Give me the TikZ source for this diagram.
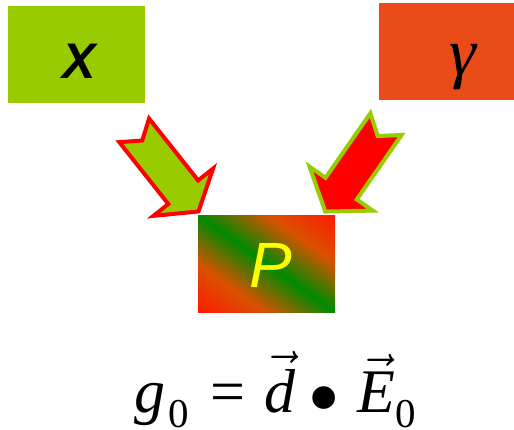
\RequirePackage{fix-cm}
\documentclass[tikz,border=0pt]{standalone}
\usepackage{fontspec}
\setmainfont{Liberation Serif}
\newfontfamily\sansfont{Liberation Sans}
\definecolor{xgreen}{HTML}{99CC00}
\definecolor{gorange}{HTML}{E94B19}
\definecolor{pyellow}{HTML}{FFFF00}
\definecolor{sred}{HTML}{FF1A00}
\definecolor{sorange}{HTML}{D85200}
\definecolor{sgreen}{HTML}{008A00}
\pgfdeclareverticalshading{rgrshade}{100bp}{color(0bp)=(sred); color(25bp)=(sred); color(37.5bp)=(sorange); color(50bp)=(sgreen); color(62.5bp)=(sorange); color(75bp)=(sred); color(100bp)=(sred)}
\tikzset{
  colbox/.style={rectangle, draw=none, inner sep=0pt, minimum width=137pt, minimum height=97pt},
  blockarrow/.style={line width=4pt, line join=miter},
  greenarrow/.style={blockarrow, fill=xgreen, draw=red},
  redarrow/.style={blockarrow, fill=red, draw=xgreen},
  lbl/.style={inner sep=0pt}
}
\begin{document}
\begin{tikzpicture}[x=1pt, y=-1pt]
\useasboundingbox[fill=white] (0,0) rectangle (514,429);
% boxes
\node[colbox, fill=xgreen] (xbox) at (76.5,54.5) {};
\node[colbox, fill=gorange, minimum width=135pt] (gbox) at (446.5,51.5) {};
\begin{scope}
  \clip (198,215) rectangle (335,312);
  \begin{scope}[transform canvas={shift={(266.5,263.5)}, rotate=-35.3}]
    \shade[shading=rgrshade] (-86,-79.5) rectangle (86,79.5);
  \end{scope}
\end{scope}
\node[colbox] (pbox) at (266.5,263.5) {};
% labels
\node[lbl] (xlabel) at (79,61) {\fontsize{50}{50}\selectfont\sansfont\bfseries\itshape X};
\node[lbl] (glabel) at (463,67.5) {\fontsize{68}{68}\selectfont\itshape γ};
\node[lbl, text=pyellow] (plabel) at (270.5,265) {\fontsize{64}{64}\selectfont\sansfont\itshape P};
% block arrows
\begin{scope}[shift={(131.7,127.2)}, rotate=-51.6]
  \draw[greenarrow] (4,19) -- (83,19) -- (83,38) -- (107.5,0) -- (83,-38) -- (83,-19) -- (4,-19) -- (17,0) -- cycle;
\end{scope}
\begin{scope}[shift={(388.3,120.8)}, rotate=-124.8]
  \draw[redarrow] (4,19) -- (82.6,19) -- (82.6,38.5) -- (110.5,0) -- (82.6,-38.5) -- (82.6,-19) -- (4,-19) -- (18.6,0) -- cycle;
\end{scope}
% formula
\node[lbl, anchor=base west] (formula) at (134,412) {\fontsize{62}{62}\selectfont\textit{g}\hspace{3pt}\raisebox{-15pt}{\fontsize{41}{41}\selectfont 0}\hspace{22pt}=\hspace{19pt}$\vec{\mbox{\itshape d}}$\hspace{12pt}\raisebox{-17pt}{\fontsize{95}{95}\selectfont •}\hspace{17pt}$\vec{\mbox{\itshape E}}$\raisebox{-15pt}{\fontsize{41}{41}\selectfont 0}};
\end{tikzpicture}
\end{document}
